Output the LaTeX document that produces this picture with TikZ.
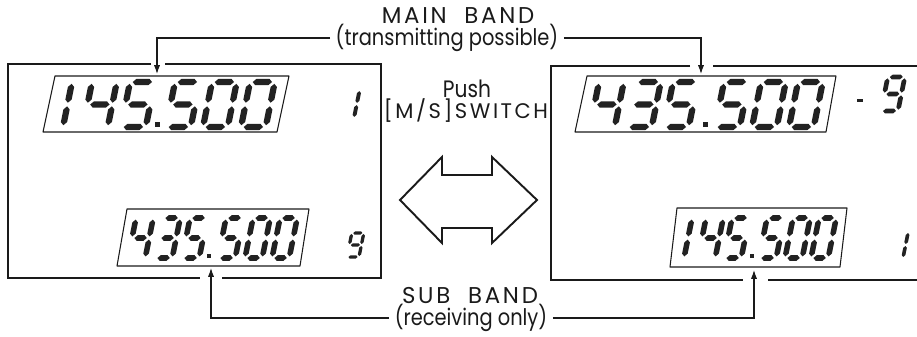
\documentclass[tikz,border=0pt]{standalone}
\usepackage{fontspec}
\setmainfont{Poppins}
\newfontfamily\bandfont[LetterSpace=12]{Poppins}
\newfontfamily\notefont[FakeStretch=0.85]{Poppins}
\usepackage{tikz}
\usetikzlibrary{arrows.meta}
\definecolor{ink}{HTML}{1A1A1A}
\definecolor{lcdink}{HTML}{222222}

% seven segments: x/y/rotate/half length (height 1, width \dw)
\def\sega{0.5*\dw/-1/0/0.5*\dw-0.06}
\def\segb{\dw/-0.75/90/0.21}
\def\segc{\dw/-0.25/90/0.21}
\def\segd{0.5*\dw/0/0/0.5*\dw-0.06}
\def\sege{0/-0.25/90/0.21}
\def\segf{0/-0.75/90/0.21}
\def\segg{0.5*\dw/-0.5/0/0.5*\dw-0.06}
\def\digzero{a,b,c,d,e,f}
\def\digone{b,c}
\def\digthree{a,b,c,d,g}
\def\digfour{b,c,f,g}
\def\digfive{a,c,d,f,g}
\def\dignine{a,b,c,d,f,g}
\newcommand{\lcdnum}[4]{% origin, height, width ratio, segments
  \begin{scope}[shift={#1},scale=#2,xslant=0.2]
    \def\dw{#3}\edef\seglist{#4}
    \foreach \s in \seglist {\edef\segspec{\csname seg\s\endcsname}
      \foreach \x/\y/\r/\l in \segspec
        \fill[lcdink,shift={({\x},{\y})},rotate=\r] ({-(\l)},0) -- ({-(\l)+0.07},0.07) -- ({\l-0.07},0.07) -- ({\l},0) -- ({\l-0.07},-0.07) -- ({-(\l)+0.07},-0.07) -- cycle;}
  \end{scope}}

\tikzset{
  frame/.style={ink,line width=1.1pt},
  lcdbox/.style={ink,line width=0.6pt,line join=round},
  lead/.style={ink,line width=0.6pt},
  leadarrow/.style={lead,-{Latex[length=5pt,width=3.5pt]}},
  lbl/.style={font=\notefont\fontsize{13}{14}\selectfont,text=ink,inner xsep=3pt,inner ysep=1.2pt},
  bandlbl/.style={font=\bandfont\fontsize{13}{14}\selectfont,text=ink,inner sep=1.2pt},
}

\begin{document}
\begin{tikzpicture}[x=0.2mm,y=-0.2mm]
  \useasboundingbox (0,0) rectangle (917,336);
  % frames with gaps for the arrows
  \draw[frame] (151,64) -- (8,64) -- (8,278) -- (200,278);
  \draw[frame] (222,278) -- (381,278) -- (381,64) -- (165,64);
  \draw[frame] (690,66) -- (551,66) -- (551,280) -- (743,280);
  \draw[frame] (768,280) -- (917,280);
  \draw[frame] (713,66) -- (917,66);
  % lcd windows
  \draw[lcdbox] (43,132) -- (55,76) -- (289,76) -- (277,132) -- cycle;
  \draw[lcdbox] (117,266) -- (127,209) -- (309,209) -- (300,266) -- cycle;
  \draw[lcdbox] (575,132) -- (587,76) -- (836,76) -- (826,132) -- cycle;
  \draw[lcdbox] (670,267) -- (677,208) -- (847,208) -- (840,267) -- cycle;
  % left display: 145.500 / 435.500
  \lcdnum{(63,127)}{45}{0}{\digone}
  \foreach \x/\dg in {83/\digfour,121/\digfive,166/\digfive,203/\digzero,241/\digzero} {\lcdnum{(\x,127)}{45}{0.55}{\dg}}
  \fill[lcdink] (155,127) rectangle (160,122);
  \lcdnum{(354,118)}{28}{0}{\digone}
  \foreach \x/\dg in {128/\digfour,155/\digthree,182/\digfive,218/\digfive,245/\digzero,272/\digzero} {\lcdnum{(\x,258)}{40}{0.43}{\dg}}
  \fill[lcdink] (207,258) rectangle (211,254);
  \lcdnum{(347,257)}{24}{0.5}{\dignine}
  % right display: 435.500 / 145.500
  \foreach \x/\dg in {590/\digfour,627/\digthree,664/\digfive,715/\digfive,752/\digzero,789/\digzero} {\lcdnum{(\x,127)}{45}{0.55}{\dg}}
  \fill[lcdink] (703,127) rectangle (708,122);
  \fill[lcdink] (857,99) rectangle (863,102);
  \lcdnum{(881,111)}{34}{0.5}{\dignine}
  \lcdnum{(684,258)}{40}{0}{\digone}
  \foreach \x/\dg in {698/\digfour,724/\digfive,759/\digfive,785/\digzero,811/\digzero} {\lcdnum{(\x,258)}{40}{0.43}{\dg}}
  \fill[lcdink] (750,258) rectangle (754,254);
  \lcdnum{(903,258)}{26}{0}{\digone}
  % labels
  \node[bandlbl] (mainhead) at (458,16) {MAIN\ \ BAND};
  \node[lbl] (mainsub) at (447,38) {(transmitting possible)};
  \node[lbl,font=\notefont\fontsize{13.5}{14}\selectfont] (push) at (467,89) {Push};
  \node[bandlbl,font=\bandfont\fontsize{12}{13}\selectfont] (switch) at (466,111) {[M/S]SWITCH};
  \node[bandlbl] (subhead) at (470,296) {SUB\ \ BAND};
  \node[lbl] (subsub) at (471,318) {(receiving only)};
  \coordinate (lmtop) at (157,74);
  \coordinate (rmtop) at (701,74);
  \coordinate (lsbot) at (211,268);
  \coordinate (rsbot) at (754,270);
  \draw[leadarrow] (mainsub.west) -| (lmtop);
  \draw[leadarrow] (mainsub.east) -| (rmtop);
  \draw[leadarrow] (subsub.west) -| (lsbot);
  \draw[leadarrow] (subsub.east) -| (rsbot);
  % swap arrow
  \draw[frame,line join=miter] (400,200) -- (442,157) -- (442,175) -- (492,175) -- (492,157) -- (537,200) -- (492,243) -- (492,228) -- (442,228) -- (442,243) -- cycle;
\end{tikzpicture}
\end{document}
